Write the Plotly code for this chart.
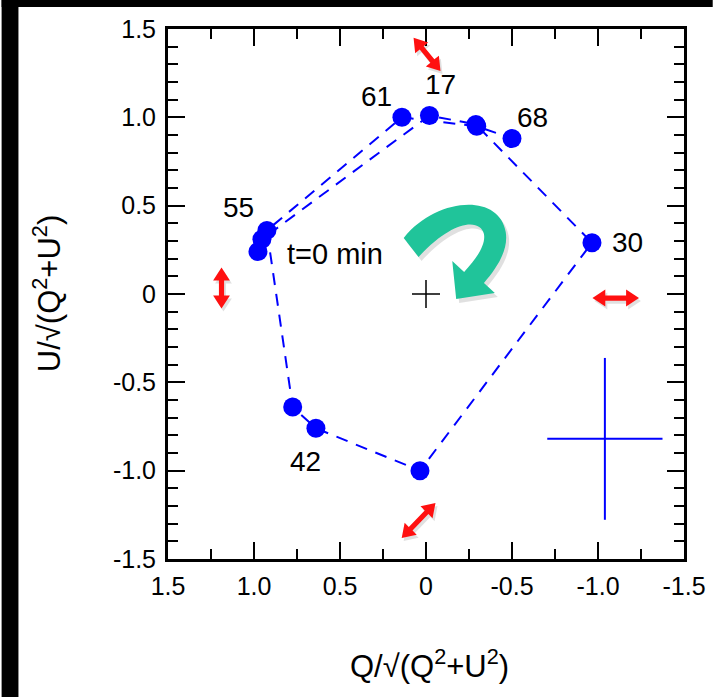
import math
import plotly.graph_objects as go

# ---------------- data ----------------
Q = [0.977, 0.954, -0.02, -0.29, -0.965, 0.035, 0.64, 0.775, 0.925, 0.14, -0.295, -0.50]
U = [0.24, 0.31, 1.01, 0.96, 0.29, -1.00, -0.76, -0.64, 0.36, 1.00, 0.95, 0.88]

label_text = ["t=0 min", "17", "30", "42", "55", "61", "68"]
label_idx = [0, 2, 4, 6, 8, 9, 11]
label_dx = [77, 11, 36, -10, -28, -25, 20]
label_dy = [-2, 31, 0, -33, 23, 21, 21]

err_Q = [-1.04]
err_U = [-0.82]
sig_Q = [0.335]
sig_U = [0.458]

tick_vals = [1.5, 1.0, 0.5, 0, -0.5, -1.0, -1.5]
tick_text = ["1.5", "1.0", "0.5", "0", "-0.5", "-1.0", "-1.5"]

# polarisation-direction double arrows: centre (Q,U), screen direction, length px
parrow_Q = [-0.006, 1.189, -1.103, 0.043]
parrow_U = [1.356, 0.034, -0.023, -1.282]
parrow_dir = [(27, 33), (0, 40), (46, 0), (34, -35)]
parrow_len = [43, 41, 47, 49]

FONT = "Arial, Liberation Sans, sans-serif"
W, H = 718, 697
ML, MR, MT, MB = 168, 29, 29, 138
PW, PH = W - ML - MR, H - MT - MB
XR = [1.5, -1.5]
YR = [-1.5, 1.5]

def px2paper(x, y):
    return (x - ML) / PW, (H - MB - y) / PH

def data2px(q, u):
    return (ML + (q - XR[0]) / (XR[1] - XR[0]) * PW,
            MT + (YR[1] - u) / (YR[1] - YR[0]) * PH)

def path_from_px(cmds, dx=0, dy=0):
    out = []
    for c in cmds:
        if isinstance(c, str):
            out.append(c)
        else:
            xp, yp = px2paper(c[0] + dx, c[1] + dy)
            out.append(f"{xp:.4f},{yp:.4f}")
    return " ".join(out)

def double_arrow(q, u, d, length, hl=13, hw=8.5, sw=2.6):
    cx, cy = data2px(q, u)
    L = math.hypot(*d)
    ux, uy = d[0] / L, d[1] / L
    nx, ny = -uy, ux
    h = length / 2
    def p(a, b):
        return (cx + ux * a + nx * b, cy + uy * a + ny * b)
    pts = [p(h, 0), p(h - hl, hw), p(h - hl, sw), p(-h + hl, sw), p(-h + hl, hw),
           p(-h, 0), p(-h + hl, -hw), p(-h + hl, -sw), p(h - hl, -sw), p(h - hl, -hw)]
    cmds = ["M", pts[0]]
    for pt in pts[1:]:
        cmds += ["L", pt]
    cmds.append("Z")
    return cmds

green_arrow = ["M", (406, 238), "C", (438, 198), (502, 192), (509, 232),
               "C", (512, 250), (500, 268), (487, 283),
               "L", (498, 293), "L", (459, 299), "L", (455, 261), "L", (467, 272),
               "C", (480, 258), (489, 245), (487, 234),
               "C", (483, 218), (455, 220), (421, 257), "Z"]

fig = go.Figure()

fig.add_trace(go.Scatter(
    x=Q, y=U, mode="lines+markers",
    line=dict(color="#0000FF", width=2, dash="12px,9px"),
    marker=dict(color="#0000FF", size=19),
    showlegend=False, hoverinfo="x+y"))

fig.add_trace(go.Scatter(
    x=[0], y=[0], mode="markers",
    marker=dict(symbol="cross-thin", size=20, line=dict(color="black", width=1.5)),
    showlegend=False))

fig.add_trace(go.Scatter(
    x=err_Q, y=err_U, mode="markers",
    marker=dict(size=1, color="rgba(0,0,0,0)"),
    error_x=dict(type="data", array=sig_Q, color="#0000FF", thickness=2, width=0),
    error_y=dict(type="data", array=sig_U, color="#0000FF", thickness=2, width=0),
    showlegend=False))

annotations = []
for t, i, dx, dy in zip(label_text, label_idx, label_dx, label_dy):
    annotations.append(dict(x=Q[i], y=U[i], text=t, showarrow=False,
                            xshift=dx, yshift=dy,
                            font=dict(family=FONT, size=29 if t == "t=0 min" else 28, color="black")))

# axis titles
annotations.append(dict(xref="paper", yref="paper",
                        x=px2paper(432, 0)[0], y=px2paper(0, 664)[1],
                        text="Q/√(Q<sup>2</sup>+U<sup>2</sup>)", showarrow=False,
                        xanchor="center", yanchor="middle",
                        font=dict(family=FONT, size=31, color="black")))
annotations.append(dict(xref="paper", yref="paper",
                        x=px2paper(46, 0)[0], y=px2paper(0, 294)[1],
                        text="U/√(Q<sup>2</sup>+U<sup>2</sup>)", showarrow=False,
                        textangle=-90, xanchor="center", yanchor="middle",
                        font=dict(family=FONT, size=31, color="black")))

shapes = [
    # black frame bands of the screenshot
    dict(type="rect", xref="paper", yref="paper",
         x0=px2paper(0, 0)[0], x1=px2paper(W, 0)[0],
         y0=px2paper(0, 7)[1], y1=px2paper(0, 0)[1],
         fillcolor="black", line=dict(width=0), layer="below"),
    dict(type="rect", xref="paper", yref="paper",
         x0=px2paper(0, 0)[0], x1=px2paper(17, 0)[0],
         y0=px2paper(0, H)[1], y1=px2paper(0, 0)[1],
         fillcolor="black", line=dict(width=0), layer="below"),
    # green rotation arrow (shadow + arrow)
    dict(type="path", xref="paper", yref="paper", path=path_from_px(green_arrow, 3, 4),
         fillcolor="rgba(0,0,0,0.12)", line=dict(width=0)),
    dict(type="path", xref="paper", yref="paper", path=path_from_px(green_arrow),
         fillcolor="#20C49A", line=dict(width=0)),
]
for q, u, d, ln in zip(parrow_Q, parrow_U, parrow_dir, parrow_len):
    cmds = double_arrow(q, u, d, ln)
    shapes.append(dict(type="path", xref="paper", yref="paper", path=path_from_px(cmds, 2, 3),
                       fillcolor="rgba(0,0,0,0.12)", line=dict(width=0)))
    shapes.append(dict(type="path", xref="paper", yref="paper", path=path_from_px(cmds),
                       fillcolor="#FF1010", line=dict(width=0)))

axis_common = dict(
    showline=True, linewidth=3, linecolor="black", mirror="allticks",
    ticks="inside", ticklen=17, tickwidth=2, tickcolor="black",
    showgrid=False, zeroline=False,
    tickvals=tick_vals, ticktext=tick_text,
    tickfont=dict(family=FONT, size=25, color="black"),
)

fig.update_layout(
    width=W, height=H,
    margin=dict(l=ML, r=MR, t=MT, b=MB),
    paper_bgcolor="white", plot_bgcolor="white",
    xaxis=dict(range=XR, **axis_common, ticklabelstandoff=3,
               minor=dict(dtick=0.25, tick0=0, ticks="inside", ticklen=10, tickwidth=2, tickcolor="black")),
    yaxis=dict(range=YR, **axis_common, ticklabelstandoff=4,
               minor=dict(dtick=0.1, tick0=0, ticks="inside", ticklen=10, tickwidth=2, tickcolor="black")),
    annotations=annotations,
    shapes=shapes,
)

fig.write_html("out.html")
